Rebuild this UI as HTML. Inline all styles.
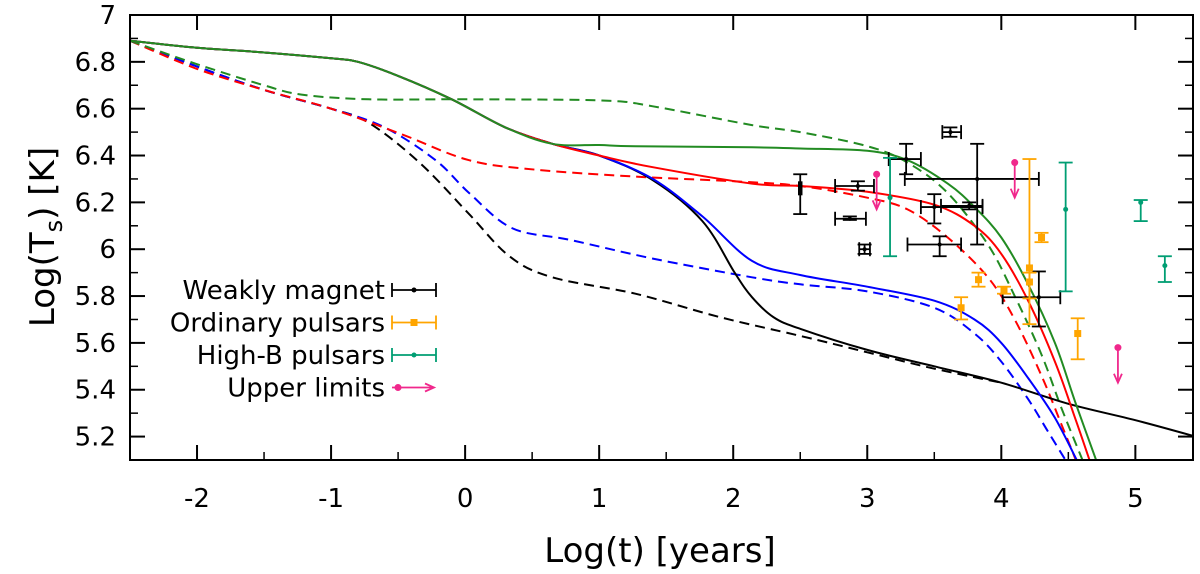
<!DOCTYPE html>
<html><head><meta charset="utf-8"><style>
html,body{margin:0;padding:0;background:#fff;width:1200px;height:574px;overflow:hidden}
text{font-family:"DejaVu Sans","Liberation Sans",sans-serif;fill:#000}
</style></head><body>
<svg id="chart" width="1200" height="574" viewBox="0 0 1200 574" xmlns="http://www.w3.org/2000/svg">
<defs><clipPath id="clip"><rect x="130" y="15" width="1063" height="445"/></clipPath></defs>
<g id="curves" clip-path="url(#clip)"></g>
<g id="points"></g>
<rect x="130" y="15" width="1063" height="445" fill="none" stroke="#000" stroke-width="2"/>
<g id="axes"></g>
<text x="660" y="562" font-size="34" text-anchor="middle">Log(t) [years]</text>
<text transform="translate(54,237) rotate(-90)" font-size="34" text-anchor="middle">Log(T<tspan font-size="24" dy="8">s</tspan><tspan dy="-8">) [K]</tspan></text>
<g id="legend"></g>
</svg>
<script>
const xTicks=[-2,-1,0,1,2,3,4,5];
const yTicks=[5.2,5.4,5.6,5.8,6,6.2,6.4,6.6,6.8,7];
const commonTop=[[-2.5,6.89],[-2,6.86],[-1.5,6.84],[-1,6.815],[-0.8,6.80],[-0.5,6.74],[-0.1,6.64],[0.3,6.52],[0.65,6.45]];
const blackSolid=commonTop.concat([[1,6.40],[1.4,6.295],[1.77,6.12],[2.01,5.90],[2.14,5.795],[2.3,5.71],[2.5,5.66],[3,5.57],[3.5,5.50],[4,5.43],[4.5,5.34],[5,5.27],[5.45,5.20]]);
const blackDashed=[[-2.5,6.89],[-2,6.78],[-1.5,6.68],[-1,6.60],[-0.72,6.54],[-0.34,6.37],[0.03,6.15],[0.33,5.97],[0.65,5.88],[1.27,5.81],[1.9,5.71],[2.5,5.63],[3,5.56],[3.5,5.49],[4,5.43]];
const blueSolid=commonTop.concat([[1,6.40],[1.4,6.30],[1.77,6.14],[2.14,5.95],[2.5,5.89],[3,5.84],[3.5,5.78],[3.8,5.70],[4,5.60],[4.2,5.45],[4.4,5.28],[4.58,5.08]]);
const blueDashed=[[-2.5,6.89],[-2,6.78],[-1.5,6.68],[-1,6.60],[-0.6,6.52],[-0.22,6.38],[0.03,6.24],[0.35,6.09],[0.78,6.04],[1.4,5.96],[2.14,5.88],[2.5,5.85],[3,5.82],[3.5,5.75],[3.8,5.64],[4,5.52],[4.2,5.36],[4.35,5.22],[4.5,5.08]];
const redSolid=commonTop.concat([[1,6.40],[1.4,6.35],[2.14,6.28],[2.5,6.27],[3,6.245],[3.5,6.19],[3.8,6.10],[4,5.98],[4.2,5.78],[4.4,5.52],[4.55,5.28],[4.67,5.08]]);
const redDashed=[[-2.5,6.89],[-2,6.77],[-1.5,6.68],[-1,6.60],[-0.47,6.49],[0.03,6.38],[0.52,6.34],[1.27,6.31],[2.01,6.29],[2.5,6.27],[3,6.22],[3.3,6.17],[3.6,6.05],[3.9,5.88],[4.1,5.70],[4.3,5.46],[4.45,5.25],[4.57,5.08]];
const greenSolid=commonTop.concat([[1,6.445],[1.27,6.44],[2.14,6.435],[2.5,6.43],[3,6.42],[3.3,6.38],[3.6,6.28],[3.8,6.18],[4,6.05],[4.2,5.85],[4.4,5.60],[4.55,5.35],[4.72,5.08]]);
const greenDashed=[[-2.5,6.89],[-2,6.79],[-1.5,6.70],[-1.22,6.66],[-0.72,6.64],[0,6.64],[1.02,6.635],[1.4,6.61],[2.14,6.53],[2.5,6.50],[3,6.44],[3.3,6.37],[3.6,6.24],[3.9,6.02],[4.1,5.80],[4.3,5.55],[4.45,5.32],[4.62,5.08]];
// [x, y, xlo, xhi, ylo, yhi]
const weakPts=[[2.5,6.26,2.49,2.51,6.15,6.32],[2.93,6.27,2.76,3.05,6.25,6.29],[2.87,6.13,2.76,2.99,6.125,6.14],[2.98,6.0,2.94,3.02,5.98,6.02],[3.29,6.385,3.16,3.40,6.32,6.45],[3.62,6.50,3.56,3.70,6.48,6.52],[3.82,6.30,3.28,4.28,6.02,6.45],[3.50,6.18,3.40,3.86,6.11,6.235],[3.76,6.185,3.55,3.86,6.17,6.20],[3.54,6.02,3.30,3.70,5.97,6.055],[4.28,5.795,4.01,4.44,5.67,5.905]];
const ordPts=[[3.70,5.75,5.70,5.795],[3.83,5.87,5.84,5.90],[4.02,5.825,5.81,5.84],[4.21,5.92,5.68,6.385],[4.21,5.86,5.79,5.90],[4.30,6.05,6.03,6.07],[4.57,5.64,5.53,5.705]];
const highPts=[[3.17,6.22,5.97,6.39],[4.48,6.17,5.82,6.37],[5.04,6.20,6.12,6.21],[5.22,5.93,5.86,5.97]];
const upperPts=[[3.07,6.32,6.17],[4.10,6.37,6.22],[4.87,5.58,5.43]];

const PL=130,PR=1193,PT=15,PB=460,XMIN=-2.5,XMAX=5.43,YMIN=5.1,YMAX=7;
const X=v=>PL+(v-XMIN)/(XMAX-XMIN)*(PR-PL);
const Y=v=>PB-(v-YMIN)/(YMAX-YMIN)*(PB-PT);
const NS='http://www.w3.org/2000/svg';
function mk(tag,attrs,parent){const e=document.createElementNS(NS,tag);for(const k in attrs)e.setAttribute(k,attrs[k]);parent.appendChild(e);return e;}
const axes=document.getElementById('axes');
xTicks.forEach(t=>{
  const a=mk('line',{x1:X(t),x2:X(t),y1:PB,y2:PB-15,stroke:'#000','stroke-width':2},axes);
  
  
  const b=mk('line',{x1:X(t),x2:X(t),y1:PT,y2:PT+15,stroke:'#000','stroke-width':2},axes);
  
  
  const tx=mk('text',{x:X(t),y:PB+47,'font-size':26,'text-anchor':'middle'},axes);tx.textContent=t;
  
  
});
for(let i=0;i<8;i++){const t=-2.5+i;const m=mk('line',{x1:X(t),x2:X(t),y1:PB,y2:PB-8,stroke:'#000','stroke-width':1.5},axes);
  
  }
yTicks.forEach(t=>{
  const a=mk('line',{x1:PL,x2:PL+15,y1:Y(t),y2:Y(t),stroke:'#000','stroke-width':2},axes);
  
  
  const b=mk('line',{x1:PR,x2:PR-15,y1:Y(t),y2:Y(t),stroke:'#000','stroke-width':2},axes);
  
  
  const m1=mk('line',{x1:PL,x2:PL+8,y1:Y(t-0.1),y2:Y(t-0.1),stroke:'#000','stroke-width':1.5},axes);
  
  
  const m2=mk('line',{x1:PR,x2:PR-8,y1:Y(t-0.1),y2:Y(t-0.1),stroke:'#000','stroke-width':1.5},axes);
  
  
  const tx=mk('text',{x:PL-14,y:Y(t)+9,'font-size':26,'text-anchor':'end'},axes);tx.textContent=String(t);
  
  
});
const curves=document.getElementById('curves');
function smoothPath(data){
  const p=data.map(d=>[X(d[0]),Y(d[1])]);
  let d='M'+p[0][0].toFixed(1)+','+p[0][1].toFixed(1);
  for(let i=0;i<p.length-1;i++){
    const p0=p[Math.max(0,i-1)],p1=p[i],p2=p[i+1],p3=p[Math.min(p.length-1,i+2)];
    const c1x=p1[0]+(p2[0]-p0[0])/6,c1y=p1[1]+(p2[1]-p0[1])/6;
    const c2x=p2[0]-(p3[0]-p1[0])/6,c2y=p2[1]-(p3[1]-p1[1])/6;
    d+='C'+c1x.toFixed(1)+','+c1y.toFixed(1)+' '+c2x.toFixed(1)+','+c2y.toFixed(1)+' '+p2[0].toFixed(1)+','+p2[1].toFixed(1);
  }
  return d;
}
function curve(data,color,dashed,name){
  const p=mk('path',{d:smoothPath(data),fill:'none',stroke:color,'stroke-width':2,'stroke-linejoin':'round'},curves);
  if(dashed)p.setAttribute('stroke-dasharray','10,6');
  
  
}
curve(blackDashed,'#000',true,'black-dashed-curve');
curve(blueDashed,'#0000ff',true,'blue-dashed-curve');
curve(redDashed,'#ff0000',true,'red-dashed-curve');
curve(greenDashed,'#228b22',true,'green-dashed-curve');
curve(blackSolid,'#000',false,'black-solid-curve');
curve(blueSolid,'#0000ff',false,'blue-solid-curve');
curve(redSolid,'#ff0000',false,'red-solid-curve');
curve(greenSolid,'#228b22',false,'green-solid-curve');
const pts=document.getElementById('points');
function cap(g,x1,y1,x2,y2,c){mk('line',{x1,y1,x2,y2,stroke:c,'stroke-width':1.8},g);}
weakPts.forEach(p=>{
  const g=mk('g',{},pts);
  
  
  const c='#000';
  cap(g,X(p[2]),Y(p[1]),X(p[3]),Y(p[1]),c);cap(g,X(p[0]),Y(p[4]),X(p[0]),Y(p[5]),c);
  cap(g,X(p[2]),Y(p[1])-7,X(p[2]),Y(p[1])+7,c);cap(g,X(p[3]),Y(p[1])-7,X(p[3]),Y(p[1])+7,c);
  cap(g,X(p[0])-7,Y(p[4]),X(p[0])+7,Y(p[4]),c);cap(g,X(p[0])-7,Y(p[5]),X(p[0])+7,Y(p[5]),c);
  mk('circle',{cx:X(p[0]),cy:Y(p[1]),r:2,fill:c},g);
});
ordPts.forEach(p=>{
  const g=mk('g',{},pts);
  
  
  const c='#ffa500';
  cap(g,X(p[0]),Y(p[2]),X(p[0]),Y(p[3]),c);
  cap(g,X(p[0])-7,Y(p[2]),X(p[0])+7,Y(p[2]),c);cap(g,X(p[0])-7,Y(p[3]),X(p[0])+7,Y(p[3]),c);
  mk('rect',{x:X(p[0])-3.5,y:Y(p[1])-3.5,width:7,height:7,fill:c},g);
});
highPts.forEach(p=>{
  const g=mk('g',{},pts);
  
  
  const c='#009e73';
  cap(g,X(p[0]),Y(p[2]),X(p[0]),Y(p[3]),c);
  cap(g,X(p[0])-7,Y(p[2]),X(p[0])+7,Y(p[2]),c);cap(g,X(p[0])-7,Y(p[3]),X(p[0])+7,Y(p[3]),c);
  mk('circle',{cx:X(p[0]),cy:Y(p[1]),r:2.5,fill:c},g);
});
upperPts.forEach(p=>{
  const g=mk('g',{},pts);
  
  
  const c='#f0288c';
  cap(g,X(p[0]),Y(p[1]),X(p[0]),Y(p[2]),c);
  mk('path',{d:`M${X(p[0])-4},${Y(p[2])-9}L${X(p[0])},${Y(p[2])}L${X(p[0])+4},${Y(p[2])-9}`,fill:'none',stroke:c,'stroke-width':1.8},g);
  mk('circle',{cx:X(p[0]),cy:Y(p[1]),r:3.5,fill:c},g);
});
const leg=document.getElementById('legend');
const legItems=[['Weakly magnet','#000','w'],['Ordinary pulsars','#ffa500','o'],['High-B pulsars','#009e73','h'],['Upper limits','#f0288c','u']];
legItems.forEach((it,i)=>{
  const y=290+i*32.5;
  const g=mk('g',{},leg);
  
  
  const t=mk('text',{x:385,y:y+9,'font-size':26,'text-anchor':'end'},g);t.textContent=it[0];
  const c=it[1];
  if(it[2]==='u'){
    cap(g,392,y,434,y,c);
    mk('path',{d:`M425,${y-4}L434,${y}L425,${y+4}`,fill:'none',stroke:c,'stroke-width':1.8},g);
    mk('circle',{cx:398,cy:y,r:3.5,fill:c},g);
  }else{
    cap(g,392,y,436,y,c);cap(g,392,y-7,392,y+7,c);cap(g,436,y-7,436,y+7,c);
    if(it[2]==='o')mk('rect',{x:410.5,y:y-3.5,width:7,height:7,fill:c},g);
    else mk('circle',{cx:414,cy:y,r:2.5,fill:c},g);
  }
});
</script>
</body></html>
